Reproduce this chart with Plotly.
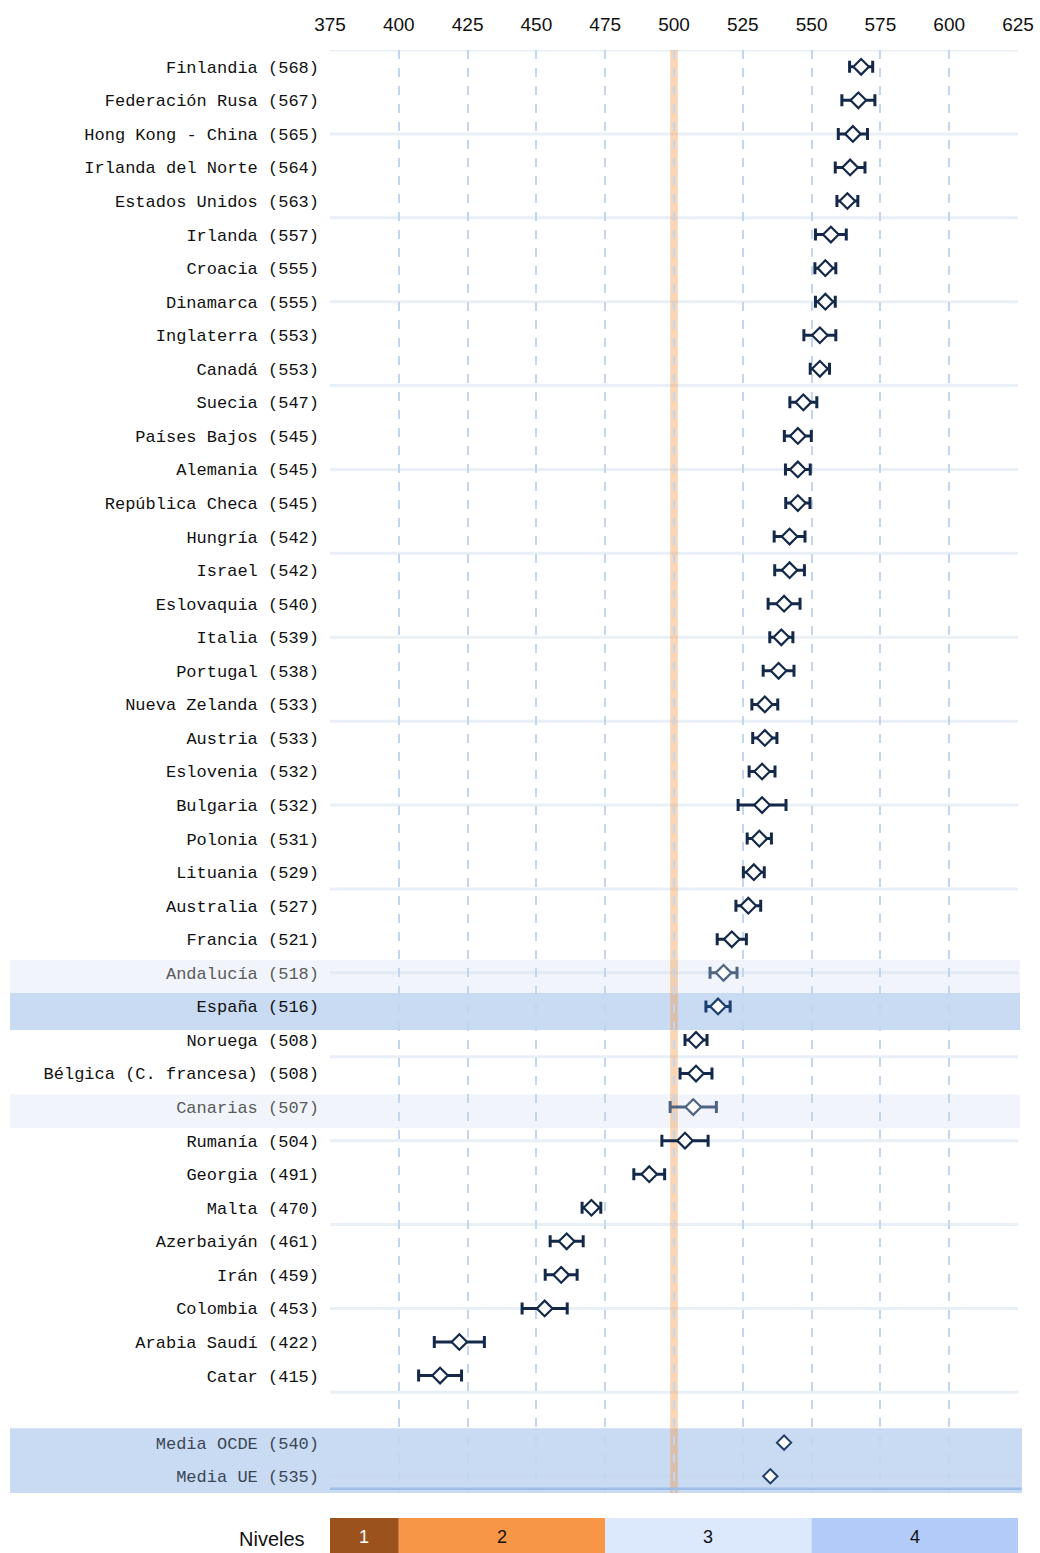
import plotly.graph_objects as go

# ---------------- data ----------------
countries = ["Finlandia", "Federación Rusa", "Hong Kong - China", "Irlanda del Norte",
             "Estados Unidos", "Irlanda", "Croacia", "Dinamarca", "Inglaterra", "Canadá",
             "Suecia", "Países Bajos", "Alemania", "República Checa", "Hungría", "Israel",
             "Eslovaquia", "Italia", "Portugal", "Nueva Zelanda", "Austria", "Eslovenia",
             "Bulgaria", "Polonia", "Lituania", "Australia", "Francia", "Andalucía",
             "España", "Noruega", "Bélgica (C. francesa)", "Canarias", "Rumanía", "Georgia",
             "Malta", "Azerbaiyán", "Irán", "Colombia", "Arabia Saudí", "Catar"]
means = [568, 567, 565, 564, 563, 557, 555, 555, 553, 553,
         547, 545, 545, 545, 542, 542, 540, 539, 538, 533,
         533, 532, 532, 531, 529, 527, 521, 518, 516, 508,
         508, 507, 504, 491, 470, 461, 459, 453, 422, 415]
ci_half = [4.2, 6.0, 5.3, 5.4, 3.8, 5.6, 3.8, 3.6, 5.8, 3.5,
           4.9, 4.9, 4.5, 4.4, 5.6, 5.4, 5.8, 4.2, 5.6, 4.7,
           4.4, 4.7, 8.7, 4.4, 3.8, 4.5, 5.3, 4.9, 4.4, 4.0,
           5.8, 8.4, 8.4, 5.6, 3.4, 6.0, 5.8, 8.2, 9.1, 7.8]
regions = ["Andalucía", "Canarias"]
spain = "España"

avg_labels = ["Media OCDE", "Media UE"]
avg_means = [540, 535]
avg_ci = [0.6, 0.6]

x_ticks = [375, 400, 425, 450, 475, 500, 525, 550, 575, 600, 625]
level_names = ["1", "2", "3", "4"]
level_bounds = [375, 400, 475, 550, 625]
level_colors = ["#9c521d", "#f79646", "#dce8fc", "#b2cbf8"]
level_text_colors = ["white", "#111111", "#111111", "#111111"]
reference_score = 500

# ---------------- layout helpers ----------------
n = len(countries)
y_country = list(range(n))
y_avg = [n + 1 + i for i in range(len(avg_labels))]
y_min, y_max = -0.5, y_avg[-1] + 0.5

main_color = "#14294a"
reg_color = "#4e6483"
esp_color = "#1d3f70"
avg_color = "#1f3d6b"

W, H = 1040, 1553
plot_left, plot_right, plot_top, plot_bottom = 330, 1018, 50, 1493
margin_l, margin_r = plot_left, W - plot_right
margin_t, margin_b = plot_top, H - plot_bottom
plot_w = plot_right - plot_left
plot_h = plot_bottom - plot_top

def px_x(sx):  # screen x -> paper x
    return (sx - plot_left) / plot_w

def px_y(sy):  # screen y -> paper y
    return (plot_bottom - sy) / plot_h

fig = go.Figure()

def add_group(idx, color):
    fig.add_trace(go.Scatter(
        x=[means[i] for i in idx], y=[y_country[i] for i in idx],
        mode="markers",
        marker=dict(symbol="diamond", size=12, color="white",
                    line=dict(color=color, width=2.2)),
        error_x=dict(type="data", symmetric=True,
                     array=[ci_half[i] for i in idx],
                     color=color, thickness=3, width=6),
        showlegend=False, hoverinfo="skip"))

main_idx = [i for i, c in enumerate(countries) if c not in regions and c != spain]
reg_idx = [i for i, c in enumerate(countries) if c in regions]
esp_idx = [i for i, c in enumerate(countries) if c == spain]
add_group(main_idx, main_color)
add_group(reg_idx, reg_color)
add_group(esp_idx, esp_color)

fig.add_trace(go.Scatter(
    x=avg_means, y=y_avg, mode="markers",
    marker=dict(symbol="diamond", size=11, color="white",
                line=dict(color=avg_color, width=2)),
    error_x=dict(type="data", symmetric=True, array=avg_ci,
                 color=avg_color, thickness=2, width=3),
    showlegend=False, hoverinfo="skip"))

# tick labels
tickvals, ticktext = [], []
for i, c in enumerate(countries):
    t = f"{c} ({means[i]})"
    if c in regions:
        t = f"<span style='color:#5a5a5a'>{t}</span>"
    tickvals.append(y_country[i])
    ticktext.append(t)
for i, c in enumerate(avg_labels):
    tickvals.append(y_avg[i])
    ticktext.append(f"<span style='color:#3a4656'>{c} ({avg_means[i]})</span>")

shapes = []
band_x0 = px_x(10)
band_x1 = px_x(1020)

# row highlight bands
for i, c in enumerate(countries):
    if c in regions:
        shapes.append(dict(type="rect", xref="paper", yref="y", x0=band_x0, x1=band_x1,
                           y0=y_country[i] - 0.38, y1=y_country[i] + 0.62,
                           fillcolor="#f1f5fb", line=dict(width=0), layer="below"))
    if c == spain:
        shapes.append(dict(type="rect", xref="paper", yref="y", x0=band_x0, x1=band_x1,
                           y0=y_country[i] - 0.4, y1=y_country[i] + 0.7,
                           fillcolor="#c9dbf2", line=dict(width=0), layer="below"))
shapes.append(dict(type="rect", xref="paper", yref="y", x0=band_x0, x1=px_x(1022),
                   y0=y_avg[0] - 0.43, y1=y_max,
                   fillcolor="#c9dbf2", line=dict(width=0), layer="below"))

# horizontal light grid lines every 2.5 rows
k = 0
while y_min + 2.5 * k <= y_max - 0.4:
    yy = y_min + 2.5 * k
    shapes.append(dict(type="line", xref="paper", yref="y", x0=0, x1=1, y0=yy, y1=yy,
                       line=dict(color="rgba(200,215,235,0.4)", width=3), layer="below"))
    k += 1

# bottom axis line
shapes.append(dict(type="line", xref="paper", yref="paper", x0=0, x1=1.005, y0=0.003, y1=0.003,
                   line=dict(color="#9dbde8", width=2.5), layer="above"))

# reference band at 500
shapes.append(dict(type="rect", xref="x", yref="paper", x0=reference_score - 1.4,
                   x1=reference_score + 1.4, y0=0, y1=1,
                   fillcolor="rgba(247,150,70,0.4)", line=dict(width=0), layer="between"))

# levels legend
annotations = []
for j in range(len(level_names)):
    shapes.append(dict(type="rect", xref="x", yref="paper",
                       x0=level_bounds[j], x1=level_bounds[j + 1],
                       y0=px_y(1553), y1=px_y(1518),
                       fillcolor=level_colors[j], line=dict(width=0), layer="above"))
    annotations.append(dict(x=(level_bounds[j] + level_bounds[j + 1]) / 2, y=px_y(1537),
                            xref="x", yref="paper", text=level_names[j], showarrow=False,
                            font=dict(family="Liberation Sans", size=18,
                                      color=level_text_colors[j]),
                            xanchor="center", yanchor="middle"))
annotations.append(dict(x=px_x(307), y=px_y(1539), xref="paper", yref="paper",
                        text="Niveles", showarrow=False,
                        font=dict(family="Liberation Sans", size=20, color="#111111"),
                        xanchor="right", yanchor="middle"))

fig.update_layout(
    width=W, height=H,
    margin=dict(l=margin_l, r=margin_r, t=margin_t, b=margin_b, pad=0, autoexpand=False),
    paper_bgcolor="white", plot_bgcolor="rgba(0,0,0,0)",
    shapes=shapes, annotations=annotations,
    xaxis=dict(range=[x_ticks[0], x_ticks[-1]], side="top", tickvals=x_ticks,
               showgrid=True, gridcolor="#c3d6ef", griddash="dash", gridwidth=1.5,
               zeroline=False, showline=False, ticks="", ticklabelstandoff=14,
               automargin=False,
               tickfont=dict(family="Liberation Sans", size=19, color="#111111")),
    yaxis=dict(range=[y_max, y_min], tickvals=tickvals, ticktext=ticktext,
               showgrid=False, zeroline=False, showline=False, ticks="",
               ticklabelstandoff=10, automargin=False,
               tickfont=dict(family="Liberation Mono", size=17, color="#111111")),
)

fig.write_html("out.html", config={"displayModeBar": False},
               post_script="document.body.style.margin='0';"
                           "document.documentElement.style.overflow='hidden';")
